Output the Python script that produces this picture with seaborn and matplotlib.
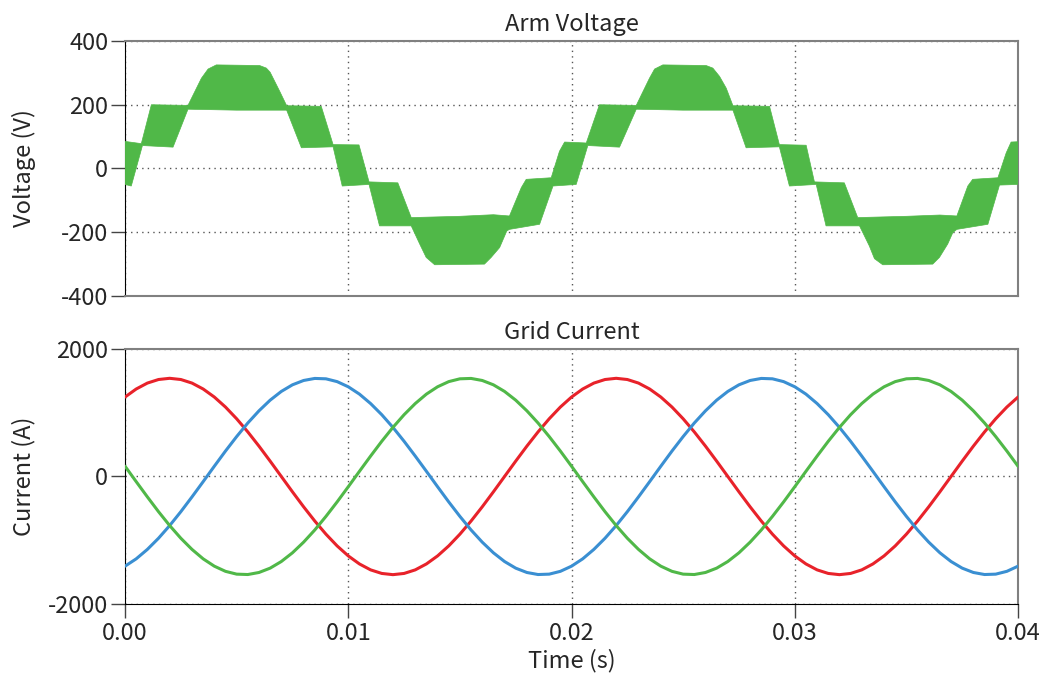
import numpy as np
import pandas as pd
import seaborn as sns
from matplotlib import pyplot as plt

# ---- arm voltage: envelope of the switching band (time in ms, volts)
upper_t = [0.00, 0.73, 1.18, 2.82, 3.42, 3.72, 4.09, 6.03, 6.33, 6.50, 6.93, 7.24,
           8.79, 9.32, 10.48, 10.93, 12.22, 12.82, 15.00, 16.50, 17.22, 17.75, 17.97,
           19.09, 19.46, 19.69, 20.66, 21.25, 22.90, 23.49, 23.72, 24.09, 26.03, 26.33,
           26.63, 26.93, 27.23, 28.87, 29.31, 30.51, 30.88, 32.22, 32.82, 35.00, 36.50,
           37.26, 37.75, 37.97, 39.10, 39.47, 39.69, 40.00]
upper_v = [85, 78, 200, 198, 283, 312, 325, 323, 315, 302, 242, 197,
           195, 75, 74, -42, -45, -154, -150, -145, -149, -60, -34,
           -29, 54, 83, 80, 200, 198, 283, 312, 325, 323, 315,
           289, 252, 197, 195, 75, 73, -42, -45, -154, -150, -146,
           -149, -55, -34, -29, 49, 83, 84]
lower_t = [0.00, 0.28, 0.78, 2.15, 2.82, 5.00, 7.24, 7.90, 9.32, 9.73, 10.93, 11.40,
           12.82, 13.20, 13.49, 13.87, 16.10, 16.40, 16.78, 17.10, 17.22, 18.57, 19.17,
           20.21, 20.73, 22.15, 22.90, 25.00, 27.23, 27.82, 29.31, 29.76, 30.96, 31.40,
           32.90, 33.34, 33.57, 33.94, 36.18, 36.48, 36.85, 37.08, 37.26, 38.65, 39.17,
           40.00]
lower_v = [-50, -55, 72, 67, 186, 183, 183, 65, 68, -55, -50, -180,
           -180, -237, -279, -302, -300, -279, -248, -196, -191, -175, -55,
           -50, 72, 67, 186, 183, 183, 65, 68, -55, -50, -180,
           -180, -243, -283, -302, -300, -279, -237, -201, -191, -175, -52,
           -50]

# ---- grid current, sampled every 0.5 ms (A)
time = np.linspace(0, 0.04, 81)
ia = [1246, 1372, 1465, 1521, 1540, 1521, 1465, 1372, 1246, 1089, 905, 699, 476, 241, 0,
      -241, -476, -699, -905, -1089, -1246, -1372, -1465, -1521, -1540, -1521, -1465,
      -1372, -1246, -1089, -905, -699, -476, -241, 0, 241, 476, 699, 905, 1089,
      1246, 1372, 1465, 1521, 1540, 1521, 1465, 1372, 1246, 1089, 905, 699, 476, 241, 0,
      -241, -476, -699, -905, -1089, -1246, -1372, -1465, -1521, -1540, -1521, -1465,
      -1372, -1246, -1089, -905, -699, -476, -241, 0, 241, 476, 699, 905, 1089, 1246]
ib = [-1407, -1292, -1144, -969, -770, -552, -320, -81, 161, 399, 626, 839, 1030, 1197,
      1334, 1438, 1506, 1538, 1532, 1488, 1407, 1292, 1144, 969, 770, 552, 320, 81,
      -161, -399, -626, -839, -1030, -1197, -1334, -1438, -1506, -1538, -1532, -1488,
      -1407, -1292, -1144, -969, -770, -552, -320, -81, 161, 399, 626, 839, 1030, 1197,
      1334, 1438, 1506, 1538, 1532, 1488, 1407, 1292, 1144, 969, 770, 552, 320, 81,
      -161, -399, -626, -839, -1030, -1197, -1334, -1438, -1506, -1538, -1532, -1488,
      -1407]
ic = [161, -81, -320, -552, -770, -969, -1144, -1292, -1407, -1488, -1532, -1538, -1506,
      -1438, -1334, -1197, -1030, -839, -626, -399, -161, 81, 320, 552, 770, 969, 1144,
      1292, 1407, 1488, 1532, 1538, 1506, 1438, 1334, 1197, 1030, 839, 626, 399,
      161, -81, -320, -552, -770, -969, -1144, -1292, -1407, -1488, -1532, -1538, -1506,
      -1438, -1334, -1197, -1030, -839, -626, -399, -161, 81, 320, 552, 770, 969, 1144,
      1292, 1407, 1488, 1532, 1538, 1506, 1438, 1334, 1197, 1030, 839, 626, 399, 161]

green = '#50b848'
palette = {'a': '#e8222a', 'b': '#3a8fd2', 'c': green}

sns.set_style('ticks')
plt.rcParams['font.family'] = ['Noto Sans CJK JP', 'DejaVu Sans']
plt.rcParams['axes.unicode_minus'] = False
fs = 17

fig = plt.figure(figsize=(10.48, 6.89), dpi=100)
ax1 = fig.add_axes([0.1193, 0.5704, 0.8521, 0.3701])
ax2 = fig.add_axes([0.1193, 0.1234, 0.8521, 0.3701])

# voltage band
xs = np.concatenate([np.array(upper_t), np.array(lower_t)[::-1]]) / 1000
ys = np.concatenate([np.array(upper_v), np.array(lower_v)[::-1]])
ax1.fill(xs, ys, color=green, lw=0.5, zorder=3)

# currents
df = pd.DataFrame({'t': np.tile(time, 3), 'i': ia + ib + ic,
                   'ph': ['a'] * 81 + ['b'] * 81 + ['c'] * 81})
sns.lineplot(data=df, x='t', y='i', hue='ph', palette=palette, ax=ax2,
             estimator=None, sort=False, lw=2.2, legend=False, zorder=3)

for ax in (ax1, ax2):
    ax.set_xlim(0, 0.04)
    ax.set_xticks([0, 0.01, 0.02, 0.03, 0.04])
    ax.grid(True, linestyle=(0, (1, 3)), color='#555555', lw=1)
    for s in ('top', 'right'):
        ax.spines[s].set_color('#808080')
        ax.spines[s].set_linewidth(1.5)
    ax.spines['left'].set_color('black')
    ax.spines['bottom'].set_color('black')
    ax.tick_params(axis='y', length=10, width=1, color='#444444', labelsize=fs, pad=2)

ax1.set_ylim(-400, 400)
ax1.set_yticks([-400, -200, 0, 200, 400])
ax1.tick_params(axis='x', length=0, labelbottom=False)
ax1.spines['bottom'].set_color('#808080')
ax1.spines['bottom'].set_linewidth(1.5)
ax1.set_ylabel('Voltage (V)', fontsize=fs)
ax1.set_xlabel('')
ax1.set_title('Arm Voltage', fontsize=fs, pad=7)

ax2.set_ylim(-2000, 2000)
ax2.set_yticks([-2000, 0, 2000])
ax2.xaxis.set_major_formatter(plt.FormatStrFormatter('%.2f'))
ax2.tick_params(axis='x', length=10, width=1, color='#444444', labelsize=fs, pad=3)
ax2.set_ylabel('Current (A)', fontsize=fs)
ax2.set_xlabel('Time (s)', fontsize=fs, labelpad=3)
ax2.set_title('Grid Current', fontsize=fs, pad=7)

for ax in (ax1, ax2):
    ax.yaxis.set_label_coords(-0.100, 0.5)

plt.savefig('out.png', dpi=100)
